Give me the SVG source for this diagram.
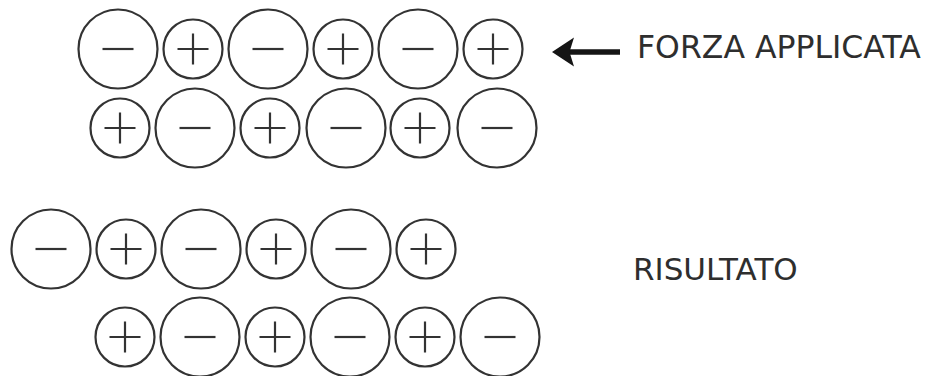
<svg xmlns="http://www.w3.org/2000/svg" width="929" height="376" viewBox="0 0 929 376">
  <style>
    .ion { fill: none; stroke: #333; stroke-width: 2.2; }
    .sign { fill: none; stroke: #333; stroke-width: 2.2; stroke-linecap: butt; }
    .label { font-family: "DejaVu Sans", Verdana, sans-serif; font-size: 31px; fill: #2e2e2e; }
  </style>
  <defs>
    <!-- anion: large circle with minus -->
    <g id="anion">
      <circle class="ion" cx="0" cy="0" r="39.5"/>
      <path class="sign" d="M-15.5,0 H15.5"/>
    </g>
    <!-- cation: small circle with plus -->
    <g id="cation">
      <circle class="ion" cx="0" cy="0" r="29.5"/>
      <path class="sign" d="M-15.5,0 H15.5 M0,-15.5 V15.5"/>
    </g>
  </defs>
  <rect width="929" height="376" fill="#fff"/>

  <!-- crystal before the force: row 1 -->
  <g id="row1">
    <g id="r1-1"><use href="#anion" x="118" y="49"/></g>
    <g id="r1-2"><use href="#cation" x="193" y="49"/></g>
    <g id="r1-3"><use href="#anion" x="268" y="49"/></g>
    <g id="r1-4"><use href="#cation" x="343" y="49"/></g>
    <g id="r1-5"><use href="#anion" x="418" y="49"/></g>
    <g id="r1-6"><use href="#cation" x="493" y="49"/></g>
  </g>
  <!-- row 2 -->
  <g id="row2">
    <g id="r2-1"><use href="#cation" x="120" y="128"/></g>
    <g id="r2-2"><use href="#anion" x="195" y="128"/></g>
    <g id="r2-3"><use href="#cation" x="270" y="128"/></g>
    <g id="r2-4"><use href="#anion" x="346" y="128"/></g>
    <g id="r2-5"><use href="#cation" x="420" y="128"/></g>
    <g id="r2-6"><use href="#anion" x="497" y="128"/></g>
  </g>

  <!-- crystal after the shift: row 3 -->
  <g id="row3">
    <g id="r3-1"><use href="#anion" x="51" y="249"/></g>
    <g id="r3-2"><use href="#cation" x="126" y="249"/></g>
    <g id="r3-3"><use href="#anion" x="201" y="249"/></g>
    <g id="r3-4"><use href="#cation" x="276" y="249"/></g>
    <g id="r3-5"><use href="#anion" x="351" y="249"/></g>
    <g id="r3-6"><use href="#cation" x="426" y="249"/></g>
  </g>
  <!-- row 4 -->
  <g id="row4">
    <g id="r4-1"><use href="#cation" x="125" y="337"/></g>
    <g id="r4-2"><use href="#anion" x="200" y="337"/></g>
    <g id="r4-3"><use href="#cation" x="275" y="337"/></g>
    <g id="r4-4"><use href="#anion" x="350" y="337"/></g>
    <g id="r4-5"><use href="#cation" x="425" y="337"/></g>
    <g id="r4-6"><use href="#anion" x="500" y="337"/></g>
  </g>

  <!-- applied force arrow -->
  <g id="connectors">
    <g id="force-arrow">
      <line x1="567" y1="52" x2="620" y2="52" stroke="#151515" stroke-width="5.5"/>
      <path d="M552,52 L574,37.5 L569.5,52 L574,66.5 Z" fill="#151515"/>
    </g>
  </g>

  <g id="labels">
    <text class="label" x="637" y="58" style="font-size:31.5px">FORZA APPLICATA</text>
    <text class="label" x="633" y="280">RISULTATO</text>
  </g>
</svg>
